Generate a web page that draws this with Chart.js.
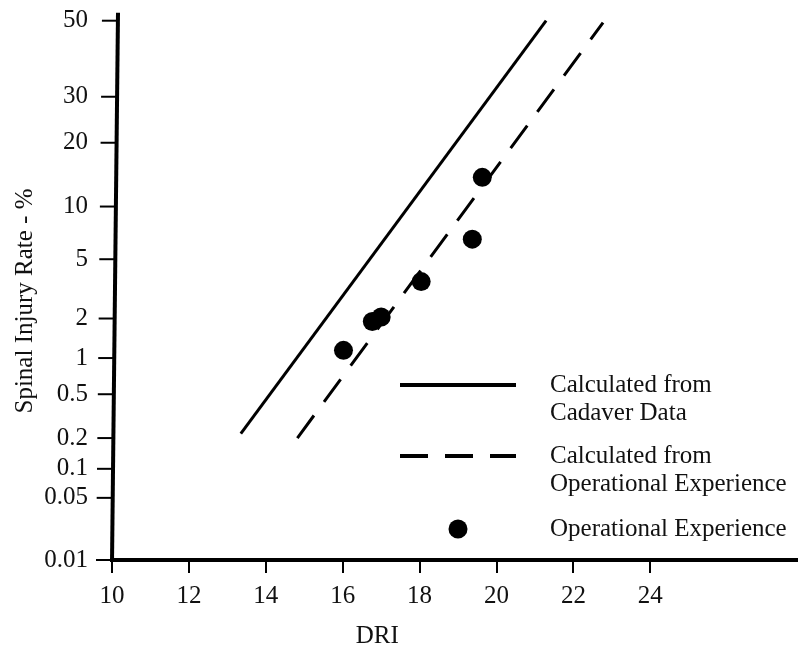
<!DOCTYPE html>
<html><head><meta charset="utf-8">
<script src="https://cdn.jsdelivr.net/npm/chart.js@4.4.1/dist/chart.umd.min.js"></script>
<style>html,body{margin:0;padding:0;background:#fff;}#wrap{width:798px;height:650px;position:relative;}</style>
</head><body><div id="wrap"><canvas id="c" width="798" height="650"></canvas></div>
<script>
const X_TITLE = 'DRI';
const Y_TITLE = 'Spinal Injury Rate - %';
const DRI_TICKS = [10, 12, 14, 16, 18, 20, 22, 24];
const RATE_TICKS = [0.01, 0.05, 0.1, 0.2, 0.5, 1, 2, 5, 10, 20, 30, 50];
const SERIES_NAMES = ['Calculated from\nCadaver Data', 'Calculated from\nOperational Experience', 'Operational Experience'];
const cadaverDRI = [13.35, 21.29];
const cadaverRate = [0.22, 50];
const opCalcDRI = [14.82, 22.77];
const opCalcRate = [0.2, 49.5];
const opDRI = [16.02, 16.77, 17.0, 18.04, 19.37, 19.63];
const opRate = [1.15, 1.9, 2.05, 3.6, 6.6, 14];

const INK = '#111';
const FONT = '"Liberation Serif", "Times New Roman", serif';

function normInv(p) {
  const a=[-3.969683028665376e+01,2.209460984245205e+02,-2.759285104469687e+02,1.383577518672690e+02,-3.066479806614716e+01,2.506628277459239e+00];
  const b=[-5.447609879822406e+01,1.615858368580409e+02,-1.556989798598866e+02,6.680131188771972e+01,-1.328068155288572e+01];
  const c=[-7.784894002430293e-03,-3.223964580411365e-01,-2.400758277161838e+00,-2.549732539343734e+00,4.374664141464968e+00,2.938163982698783e+00];
  const d=[7.784695709041462e-03,3.224671290700398e-01,2.445134137142996e+00,3.754408661907416e+00];
  const pl = 0.02425, ph = 1 - pl; let q, r;
  if (p < pl) { q = Math.sqrt(-2*Math.log(p)); return (((((c[0]*q+c[1])*q+c[2])*q+c[3])*q+c[4])*q+c[5])/((((d[0]*q+d[1])*q+d[2])*q+d[3])*q+1); }
  if (p <= ph) { q = p - 0.5; r = q*q; return (((((a[0]*r+a[1])*r+a[2])*r+a[3])*r+a[4])*r+a[5])*q/(((((b[0]*r+b[1])*r+b[2])*r+b[3])*r+b[4])*r+1); }
  q = Math.sqrt(-2*Math.log(1-p)); return -(((((c[0]*q+c[1])*q+c[2])*q+c[3])*q+c[4])*q+c[5])/((((d[0]*q+d[1])*q+d[2])*q+d[3])*q+1);
}
function normCdf(z) {
  const x = Math.abs(z) / Math.SQRT2, t = 1 / (1 + 0.3275911 * x);
  const e = 1 - (((((1.061405429*t - 1.453152027)*t) + 1.421413741)*t - 0.284496736)*t + 0.254829592)*t*Math.exp(-x*x);
  return 0.5 * (1 + (z < 0 ? -e : e));
}

class ProbitScale extends Chart.Scale {
  determineDataLimits() { this.min = this.options.min; this.max = this.options.max; }
  buildTicks() { return RATE_TICKS.map(v => ({ value: v })); }
  configure() { super.configure(); this._z0 = normInv(this.min / 100); this._z1 = normInv(this.max / 100); }
  getPixelForValue(v) { const z = normInv(v / 100); return this.getPixelForDecimal((z - this._z0) / (this._z1 - this._z0)); }
  getValueForPixel(px) { const dd = this.getDecimalForPixel(px); return 100 * normCdf(this._z0 + dd * (this._z1 - this._z0)); }
  getLabelForValue(v) { return String(v); }
}
ProbitScale.id = 'probit';
ProbitScale.defaults = {};
Chart.register(ProbitScale);

const decor = {
  id: 'decor',
  afterDraw(chart) {
    const { ctx, chartArea: ca, scales: { x, y } } = chart;
    ctx.save();
    // slanted y axis line with its tick marks
    const topX = ca.left + 6, botX = ca.left;
    const axisAt = py => botX + (topX - botX) * (ca.bottom - py) / (ca.bottom - ca.top);
    ctx.strokeStyle = '#000';
    ctx.lineWidth = 4;
    ctx.beginPath(); ctx.moveTo(topX, ca.top); ctx.lineTo(botX, ca.bottom + 2); ctx.stroke();
    ctx.lineWidth = 2;
    y.ticks.forEach(t => {
      const py = y.getPixelForValue(t.value), ax = axisAt(py);
      ctx.beginPath(); ctx.moveTo(ax - 16, py); ctx.lineTo(ax, py); ctx.stroke();
    });
    // axis titles
    ctx.fillStyle = INK;
    ctx.font = '25px ' + FONT;
    ctx.textAlign = 'center'; ctx.textBaseline = 'middle';
    ctx.fillText(X_TITLE, x.getPixelForValue(16.9), 636);
    ctx.save();
    ctx.translate(25, 301); ctx.rotate(-Math.PI / 2);
    ctx.fillText(Y_TITLE, 0, 0);
    ctx.restore();
    // legend
    const x0 = 400, x1 = 516, tx = 550, rows = [385, 456, 529], lineH = 28;
    ctx.textAlign = 'left';
    chart.data.datasets.forEach((ds, i) => {
      const ry = rows[i];
      if (ds.showLine) {
        ctx.strokeStyle = ds.borderColor; ctx.lineWidth = ds.borderWidth + 1;
        ctx.setLineDash(ds.borderDash || []);
        ctx.beginPath(); ctx.moveTo(x0, ry); ctx.lineTo(x1, ry); ctx.stroke();
        ctx.setLineDash([]);
      } else {
        ctx.fillStyle = ds.backgroundColor;
        ctx.beginPath(); ctx.arc((x0 + x1) / 2, ry, ds.pointRadius, 0, Math.PI * 2); ctx.fill();
      }
      ctx.fillStyle = INK;
      ds.label.split('\n').forEach((l, j) => ctx.fillText(l, tx, ry + j * lineH));
    });
    ctx.restore();
  }
};

Chart.defaults.font.family = FONT;
Chart.defaults.font.size = 25;
Chart.defaults.color = INK;

new Chart(document.getElementById('c'), {
  type: 'scatter',
  data: {
    datasets: [
      { label: SERIES_NAMES[0], data: cadaverDRI.map((v, i) => ({ x: v, y: cadaverRate[i] })),
        showLine: true, borderColor: '#000', borderWidth: 3, pointRadius: 0, fill: false },
      { label: SERIES_NAMES[1], data: opCalcDRI.map((v, i) => ({ x: v, y: opCalcRate[i] })),
        showLine: true, borderColor: '#000', borderWidth: 3, borderDash: [28, 17], pointRadius: 0, fill: false },
      { label: SERIES_NAMES[2], data: opDRI.map((v, i) => ({ x: v, y: opRate[i] })),
        showLine: false, pointRadius: 9.5, backgroundColor: '#000', borderWidth: 0 }
    ]
  },
  options: {
    responsive: false, animation: false, devicePixelRatio: 1,
    layout: { autoPadding: false, padding: { top: 12.7, left: 0, right: 0, bottom: 0 } },
    plugins: { legend: { display: false }, tooltip: { enabled: false } },
    scales: {
      x: {
        type: 'linear', min: 10, max: 27.84,
        afterBuildTicks: s => { s.ticks = DRI_TICKS.map(v => ({ value: v })); },
        afterFit: s => { s.height = 90; s.paddingLeft = 0; s.paddingRight = 0; },
        ticks: { stepSize: 2, padding: 8, maxRotation: 0, autoSkip: false, color: INK },
        grid: { drawOnChartArea: false, drawTicks: true, tickLength: 13, color: '#000', lineWidth: 2 },
        border: { display: true, color: '#000', width: 4 }
      },
      y: {
        type: 'probit', min: 0.01, max: 52.2,
        afterFit: s => { s.width = 112; s.paddingTop = 0; s.paddingBottom = 0; },
        ticks: { padding: 10, autoSkip: false, color: INK },
        grid: { drawOnChartArea: false, drawTicks: true, tickLength: 14, color: 'rgba(0,0,0,0)' },
        border: { display: false }
      }
    }
  },
  plugins: [decor]
});
</script></body></html>
